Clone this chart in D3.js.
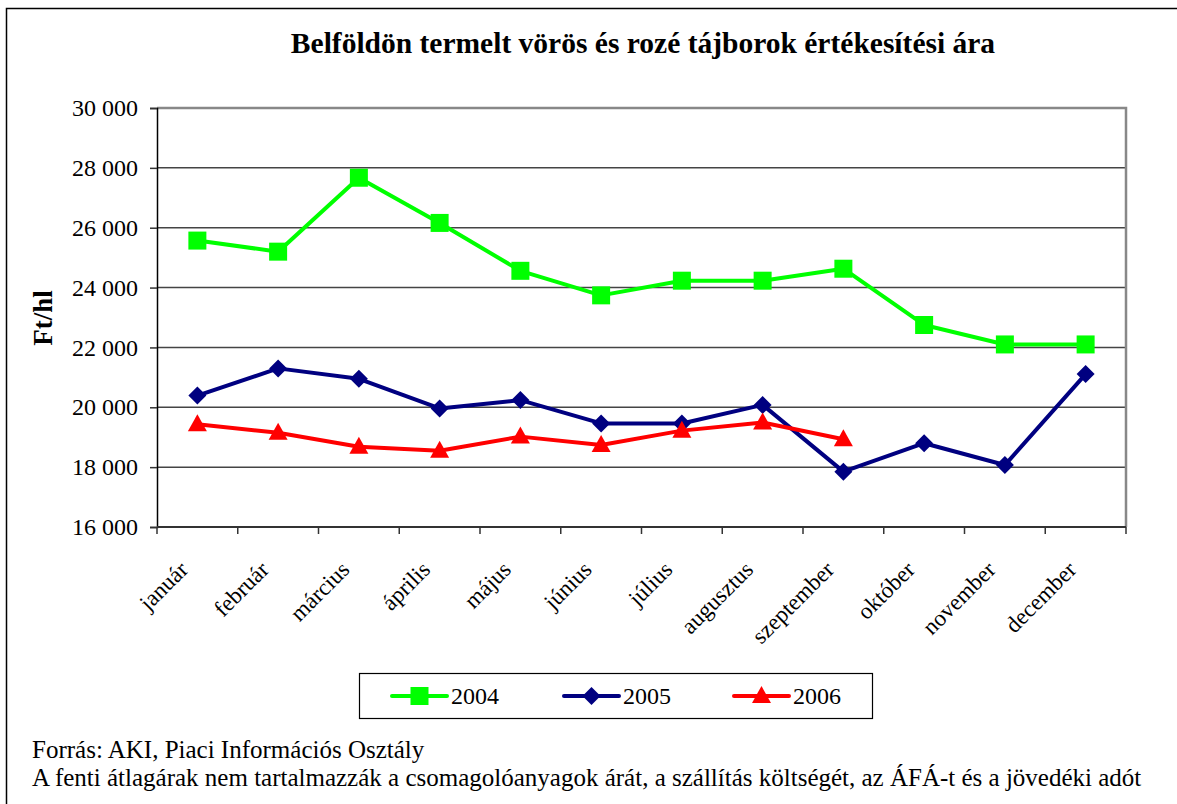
<!DOCTYPE html>
<html>
<head>
<meta charset="utf-8">
<script src="https://cdn.jsdelivr.net/npm/d3@7"></script>
<style>
  body { margin: 0; background: #fff; }
  text { font-family: "Liberation Serif", "Times New Roman", serif; fill: #000; }
</style>
</head>
<body>
<script>
// Data
var months = ["január", "február", "március", "április", "május", "június",
              "július", "augusztus", "szeptember", "október", "november", "december"];
var v2004 = [25570, 25200, 27670, 26160, 24560, 23740, 24230, 24230, 24630, 22750, 22100, 22100];
var v2005 = [20390, 21300, 20950, 19960, 20240, 19460, 19460, 20080, 17850, 18800, 18070, 21110];
var v2006 = [19430, 19150, 18680, 18550, 19020, 18740, 19220, 19490, 18930];
var yTicks = [16000, 18000, 20000, 22000, 24000, 26000, 28000, 30000];
var seriesNames = ["2004", "2005", "2006"];

var W = 1177, H = 804;
var margin = {left: 157, right: 51, top: 108, bottom: 277},
    width = W - margin.left - margin.right,
    height = H - margin.top - margin.bottom;

var svg = d3.select("body").append("svg")
    .attr("width", W)
    .attr("height", H);

//Outer frame (left and top only visible)
svg.append("path")
    .attr("d", "M6.5," + H + "V8.5H" + W)
    .attr("fill", "none")
    .attr("stroke", "#000")
    .attr("stroke-width", 1.5);

//Title
svg.append("text")
    .attr("x", 643)
    .attr("y", 53)
    .attr("text-anchor", "middle")
    .attr("font-weight", "bold")
    .attr("font-size", "29.5px")
    .text("Belföldön termelt vörös és rozé tájborok értékesítési ára");

var g = svg.append("g")
    .attr("transform", "translate(" + margin.left + "," + margin.top + ")");

var xScale = d3.scaleBand()
    .domain(months)
    .range([0, width]);

var yScale = d3.scaleLinear()
    .domain([16000, 30000])
    .range([height, 0]);

var fmt = function(d) { return d3.format(",")(d).replace(",", " "); };

//Grid lines
g.selectAll(".grid")
    .data(yTicks.slice(1, -1))
    .enter().append("line")
    .attr("class", "grid")
    .attr("x1", 0).attr("x2", width)
    .attr("y1", function(d) { return yScale(d); })
    .attr("y2", function(d) { return yScale(d); })
    .attr("stroke", "#444")
    .attr("stroke-width", 1.5);

//Plot border top and right
g.append("path")
    .attr("d", "M0," + yScale(30000) + "H" + width + "V" + height)
    .attr("fill", "none")
    .attr("stroke", "#888")
    .attr("stroke-width", 2.5);

//Y axis
var yAxis = d3.axisLeft(yScale).tickValues(yTicks).tickFormat(fmt).tickSize(7).tickPadding(12);
var gy = g.append("g").attr("class", "y axis").call(yAxis);
gy.select(".domain").attr("stroke", "#000").attr("stroke-width", 1.5);
gy.selectAll(".tick line").attr("stroke", "#333").attr("stroke-width", 1.5);
gy.selectAll(".tick text")
    .attr("font-family", "Liberation Serif, serif")
    .attr("font-size", "24px")
    .attr("fill", "#000");

//X axis with ticks at band boundaries
var gx = g.append("g").attr("transform", "translate(0," + height + ")");
gx.append("line")
    .attr("x1", 0).attr("x2", width)
    .attr("stroke", "#333").attr("stroke-width", 2);
gx.selectAll(".xtick")
    .data(months.concat(["end"]))
    .enter().append("line")
    .attr("class", "xtick")
    .attr("x1", function(d, i) { return i * xScale.bandwidth(); })
    .attr("x2", function(d, i) { return i * xScale.bandwidth(); })
    .attr("y1", 0).attr("y2", 7)
    .attr("stroke", "#333").attr("stroke-width", 1.5);
gx.selectAll(".xlabel")
    .data(months)
    .enter().append("text")
    .attr("class", "xlabel")
    .attr("text-anchor", "end")
    .attr("font-size", "23px")
    .attr("transform", function(d) {
        return "translate(" + (xScale(d) + xScale.bandwidth() / 2 - 8) + ",44) rotate(-45)";
    })
    .text(function(d) { return d; });

//Y label
svg.append("text")
    .attr("transform", "translate(52,318) rotate(-90)")
    .attr("text-anchor", "middle")
    .attr("font-weight", "bold")
    .attr("font-size", "27px")
    .text("Ft/hl");

//Lines and markers
var colors = ["#00ff00", "#000080", "#ff0000"];
var data = [v2004, v2005, v2006];

var line = d3.line()
    .x(function(d, i) { return xScale(months[i]) + xScale.bandwidth() / 2; })
    .y(function(d) { return yScale(d); });

function drawMarker(sel, k) {
    if (k === 1) {
        sel.attr("d", "M0,-9L9,0L0,9L-9,0Z");
    } else if (k === 2) {
        sel.attr("d", "M0,-10L9.5,7L-9.5,7Z");
    } else {
        sel.attr("d", "M-9,-9H9V9H-9Z");
    }
}

data.forEach(function(vals, k) {
    g.append("path")
        .datum(vals)
        .attr("d", line)
        .attr("fill", "none")
        .attr("stroke", colors[k])
        .attr("stroke-width", 4)
        .attr("stroke-linejoin", "round");
});
data.forEach(function(vals, k) {
    g.selectAll(".m" + k)
        .data(vals)
        .enter().append("path")
        .attr("class", "m" + k)
        .attr("transform", function(d, i) {
            return "translate(" + (xScale(months[i]) + xScale.bandwidth() / 2) + "," + yScale(d) + ")";
        })
        .call(drawMarker, k)
        .attr("fill", colors[k]);
});

//Legend
var legend = svg.append("g");
legend.append("rect")
    .attr("x", 359.5).attr("y", 673.5)
    .attr("width", 513).attr("height", 45)
    .attr("fill", "#fff")
    .attr("stroke", "#000").attr("stroke-width", 1.2);

var legX = [392, 564, 734];
seriesNames.forEach(function(name, k) {
    var lx = legX[k], ly = 696;
    legend.append("line")
        .attr("x1", lx).attr("x2", lx + 55)
        .attr("y1", ly).attr("y2", ly)
        .attr("stroke", colors[k]).attr("stroke-width", 4)
        .attr("stroke-linecap", "round");
    legend.append("path")
        .attr("transform", "translate(" + (lx + 27.5) + "," + ly + ")")
        .call(drawMarker, k)
        .attr("fill", colors[k]);
    legend.append("text")
        .attr("x", lx + 59)
        .attr("y", ly + 8)
        .attr("font-size", "24px")
        .text(name);
});

//Footer notes
svg.append("text")
    .attr("x", 32).attr("y", 758)
    .attr("font-size", "25px")
    .text("Forrás: AKI, Piaci Információs Osztály");
svg.append("text")
    .attr("x", 32).attr("y", 786)
    .attr("font-size", "25px")
    .text("A fenti átlagárak nem tartalmazzák a csomagolóanyagok árát, a szállítás költségét, az ÁFÁ-t és a jövedéki adót");
</script>
</body>
</html>
